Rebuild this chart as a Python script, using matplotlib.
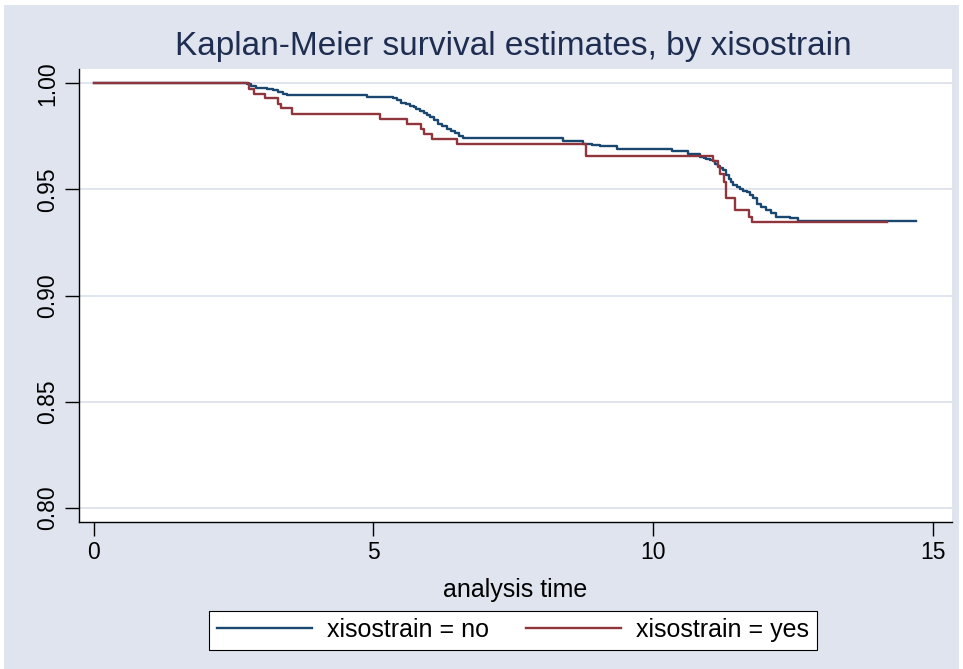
import matplotlib

matplotlib.use("Agg")
import matplotlib.pyplot as plt
from matplotlib.patches import Rectangle

# Kaplan-Meier step points (time, survival)
NO_TIME = [0, 2.74, 2.82, 2.9, 3.0, 3.1, 3.2, 3.3, 3.38, 3.45, 4.88, 5.35, 5.42,
           5.5, 5.58, 5.65, 5.72, 5.77, 5.84, 5.9, 5.96, 6.01, 6.08, 6.15, 6.23,
           6.31, 6.38, 6.45, 6.53, 6.61, 8.39, 8.75, 8.9, 9.05, 9.35, 10.33,
           10.62, 10.83, 10.9, 10.95, 11.01, 11.07, 11.11, 11.15, 11.2, 11.25,
           11.3, 11.35, 11.39, 11.43, 11.49, 11.55, 11.61, 11.67, 11.73, 11.78,
           11.85, 11.93, 12.02, 12.1, 12.2, 12.45, 12.59, 14.69]
NO_SURV = [1.0, 0.9995, 0.999, 0.998, 0.9978, 0.9976, 0.997, 0.996, 0.9952,
           0.9945, 0.9935, 0.993, 0.992, 0.991, 0.9902, 0.9895, 0.9887, 0.988,
           0.9871, 0.9862, 0.9852, 0.9842, 0.9826, 0.981, 0.9798, 0.9787, 0.9776,
           0.9765, 0.9754, 0.9742, 0.9728, 0.9715, 0.971, 0.9705, 0.9692, 0.968,
           0.9668, 0.9655, 0.965, 0.9645, 0.964, 0.9632, 0.962, 0.961, 0.96,
           0.959, 0.957, 0.955, 0.9535, 0.9519, 0.951, 0.950, 0.9494, 0.9487,
           0.9474, 0.946, 0.9432, 0.9418, 0.9403, 0.939, 0.9372, 0.9365, 0.9353,
           0.9353]

YES_TIME = [0, 2.77, 2.86, 3.07, 3.30, 3.35, 3.55, 5.12, 5.6, 5.85, 5.9, 6.04,
            6.5, 8.8, 11.07, 11.16, 11.2, 11.26, 11.3, 11.46, 11.71, 11.76, 14.18]
YES_SURV = [1.0, 0.9976, 0.9949, 0.9929, 0.9905, 0.9882, 0.9858, 0.9834, 0.981,
            0.9787, 0.9763, 0.9736, 0.9713, 0.966, 0.9633, 0.9605, 0.9574,
            0.9534, 0.946, 0.9403, 0.937, 0.9345, 0.9345]

X_TICKS = [0, 5, 10, 15]
Y_TICKS = [0.80, 0.85, 0.90, 0.95, 1.00]

NAVY = "#1a476f"
MAROON = "#90353b"
BG = "#dfe4ef"
FONT = "Liberation Sans"

W, H = 963, 669
fig = plt.figure(figsize=(W / 100, H / 100), dpi=100)
fig.patch.set_facecolor("white")
# bluish graph region with a thin white margin
fig.patches.append(Rectangle((4 / W, 0), 1 - 8 / W, 1 - 5 / H, transform=fig.transFigure,
                             facecolor=BG, edgecolor="none", zorder=0))

ax = fig.add_axes([79 / W, (H - 522) / H, (952 - 79) / W, (522 - 69) / H])
ax.set_facecolor("white")
ax.set_zorder(1)

ax.step(NO_TIME, NO_SURV, where="post", color=NAVY, lw=1.7, label="xisostrain = no", zorder=3)
ax.step(YES_TIME, YES_SURV, where="post", color=MAROON, lw=1.7, label="xisostrain = yes", zorder=3)

ax.set_xlim(-0.26, 15.34)
ax.set_ylim(0.7932, 1.0068)
ax.set_xticks(X_TICKS)
ax.set_yticks(Y_TICKS)
ax.set_yticklabels([f"{v:.2f}" for v in Y_TICKS], rotation=90, va="center")
ax.tick_params(axis="both", length=10, width=1, labelsize=16.5, pad=4)
for lab in ax.get_xticklabels() + ax.get_yticklabels():
    lab.set_family(FONT)
ax.grid(axis="y", color="#dce2ee", lw=1.3, zorder=1)
for side in ("top", "right"):
    ax.spines[side].set_visible(False)
for side in ("left", "bottom"):
    ax.spines[side].set_linewidth(1.0)

ax.set_xlabel("analysis time", fontsize=18, family=FONT, labelpad=10)
fig.text(513 / W, 1 - 46 / H, "Kaplan-Meier survival estimates, by xisostrain",
         ha="center", va="center", fontsize=24, family=FONT, color="#1e2d50")

leg = fig.legend(loc="center", bbox_to_anchor=(513 / W, 1 - 630 / H), ncol=2,
                 prop={"family": FONT, "size": 18}, handlelength=3.8,
                 handletextpad=0.6, columnspacing=1.5, borderpad=0.3,
                 fancybox=False, framealpha=1, edgecolor="black")
leg.get_frame().set_linewidth(0.8)
for line in leg.get_lines():
    line.set_linewidth(1.7)

fig.savefig("out.png", dpi=100)
plt.close(fig)
